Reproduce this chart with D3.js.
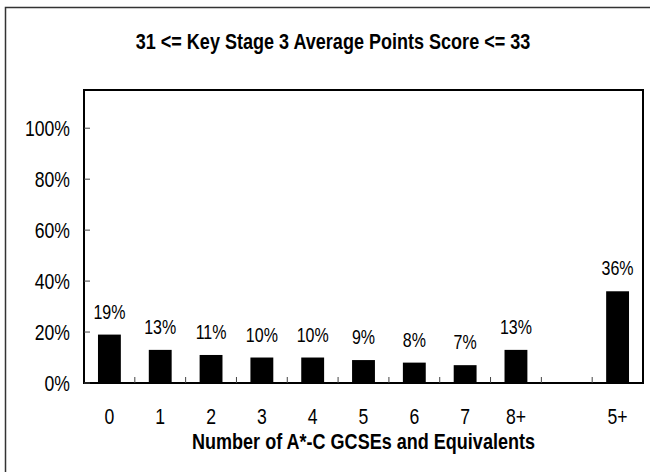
<!DOCTYPE html>
<html>
<head>
<meta charset="utf-8">
<script src="https://cdn.jsdelivr.net/npm/d3@7"></script>
<style>
  html, body { margin: 0; padding: 0; background: #fff; }
  svg { display: block; }
  text { font-family: "Liberation Sans", Arial, sans-serif; fill: #000; }
</style>
</head>
<body>
<svg id="chart" width="650" height="472"></svg>
<script>
const chartTitle = "31 <= Key Stage 3 Average Points Score <= 33";
const xAxisTitle = "Number of A*-C GCSEs and Equivalents";
const categories = ["0", "1", "2", "3", "4", "5", "6", "7", "8+", "", "5+"];
const values = [19, 13, 11, 10, 10, 9, 8, 7, 13, null, 36];
const yTicks = [0, 20, 40, 60, 80, 100];

const svg = d3.select("#chart");
const plot = { left: 84, right: 643, top: 90, bottom: 383 };
const NARROW = 0.8;

// helper: condensed text placed at (px, py)
function narrowText(sel, px, py, sx) {
  return sel.attr("x", 0).attr("y", 0)
    .attr("transform", (d, i) => {
      const X = typeof px === "function" ? px(d, i) : px;
      const Y = typeof py === "function" ? py(d, i) : py;
      return `translate(${X},${Y}) scale(${sx},1)`;
    });
}

// outer frame (clipped at right and bottom in the reference)
svg.append("rect")
  .attr("x", 5.5).attr("y", 7.5)
  .attr("width", 660).attr("height", 480)
  .attr("fill", "#fff").attr("stroke", "#333").attr("stroke-width", 1.5);

const keys = categories.map((c, i) => i);
const x = d3.scaleBand().domain(keys).range([plot.left, plot.right])
  .paddingInner(0.55).paddingOuter(0.275);
const y = d3.scaleLinear().domain([0, 115]).range([plot.bottom, plot.top]);

// plot box
svg.append("rect")
  .attr("x", plot.left).attr("y", plot.top)
  .attr("width", plot.right - plot.left).attr("height", plot.bottom - plot.top)
  .attr("fill", "#fff").attr("stroke", "#000").attr("stroke-width", 2);

// bars
const data = keys.map(i => ({ i, cat: categories[i], v: values[i] })).filter(d => d.v != null);
svg.append("g").selectAll("rect").data(data).join("rect")
  .attr("x", d => x(d.i)).attr("width", x.bandwidth())
  .attr("y", d => y(d.v)).attr("height", d => y(0) - y(d.v))
  .attr("fill", "#000");

// data labels
narrowText(
  svg.append("g").selectAll("text").data(data).join("text"),
  d => x(d.i) + x.bandwidth() / 2, d => y(d.v) - 16, NARROW)
  .attr("text-anchor", "middle")
  .attr("font-size", 20)
  .text(d => d.v + "%");

// x ticks between categories (inside, upward)
const step = x.step();
svg.append("g").selectAll("line").data(keys.slice(0, -1)).join("line")
  .attr("x1", i => x(i) + x.bandwidth() + (step - x.bandwidth()) / 2)
  .attr("x2", i => x(i) + x.bandwidth() + (step - x.bandwidth()) / 2)
  .attr("y1", plot.bottom).attr("y2", plot.bottom - 6)
  .attr("stroke", "#444").attr("stroke-width", 1);

// y ticks (inside)
svg.append("g").selectAll("line").data(yTicks).join("line")
  .attr("x1", plot.left).attr("x2", plot.left + 6)
  .attr("y1", d => y(d)).attr("y2", d => y(d))
  .attr("stroke", "#444").attr("stroke-width", 1);

// y tick labels
narrowText(
  svg.append("g").selectAll("text").data(yTicks).join("text"),
  70, d => y(d) + 8, NARROW)
  .attr("text-anchor", "end")
  .attr("font-size", 22)
  .text(d => d + "%");

// x tick labels
narrowText(
  svg.append("g").selectAll("text").data(keys).join("text"),
  i => x(i) + x.bandwidth() / 2, 424, NARROW)
  .attr("text-anchor", "middle")
  .attr("font-size", 22)
  .text(i => categories[i]);

// axis title
narrowText(svg.append("text"), (plot.left + plot.right) / 2, 449, 0.82)
  .attr("text-anchor", "middle")
  .attr("font-size", 22).attr("font-weight", "bold")
  .text(xAxisTitle);

// chart title
narrowText(svg.append("text"), 333, 49, 0.82)
  .attr("text-anchor", "middle")
  .attr("font-size", 22).attr("font-weight", "bold")
  .text(chartTitle);
</script>
</body>
</html>
